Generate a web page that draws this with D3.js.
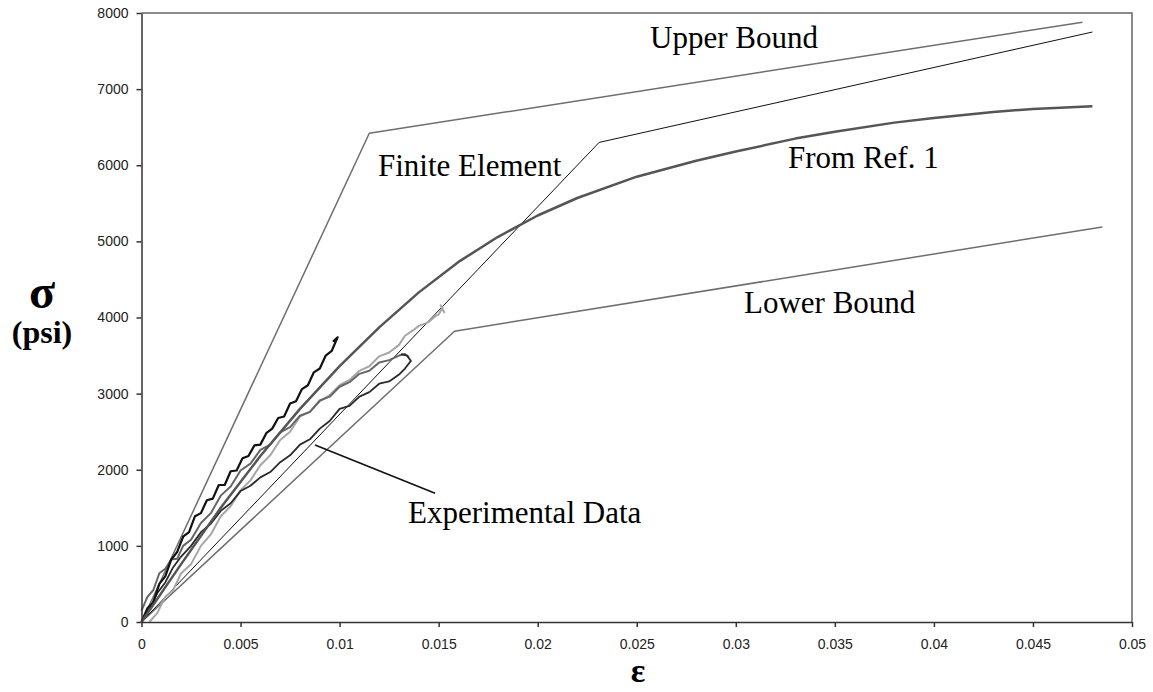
<!DOCTYPE html>
<html>
<head>
<meta charset="utf-8">
<script src="https://cdn.jsdelivr.net/npm/d3@7"></script>
<style>
  html, body { margin: 0; padding: 0; background: #fff; }
  svg { display: block; }
</style>
</head>
<body>
<svg id="chart" width="1153" height="692"></svg>
<script>
// ---- data ----
const xTicks = [0, 0.005, 0.01, 0.015, 0.02, 0.025, 0.03, 0.035, 0.04, 0.045, 0.05];
const xTickLabels = ["0", "0.005", "0.01", "0.015", "0.02", "0.025", "0.03", "0.035", "0.04", "0.045", "0.05"];
const yTicks = [0, 1000, 2000, 3000, 4000, 5000, 6000, 7000, 8000];
const yTickLabels = ["0", "1000", "2000", "3000", "4000", "5000", "6000", "7000", "8000"];

const upperBound = [[0, 0], [0.0115, 6420], [0.0475, 7880]];
const finiteElement = [[0, 0], [0.0231, 6300], [0.048, 7750]];
const lowerBound = [[0, 0], [0.0158, 3820], [0.0485, 5190]];
const fromRef1 = [[0, 0], [0.002, 760], [0.004, 1500], [0.006, 2180], [0.008, 2800], [0.010, 3360],
  [0.012, 3870], [0.014, 4330], [0.016, 4730], [0.018, 5060], [0.020, 5340], [0.022, 5570],
  [0.025, 5850], [0.028, 6060], [0.030, 6180], [0.033, 6350], [0.035, 6440], [0.038, 6560],
  [0.040, 6620], [0.043, 6700], [0.045, 6740], [0.048, 6775]];

const expBlack = [[0, 0], [0.0003, 180], [0.0006, 260], [0.0009, 500], [0.0012, 600], [0.0015, 820],
  [0.0018, 920], [0.0021, 1120], [0.0024, 1180], [0.0027, 1390], [0.003, 1430], [0.0033, 1600],
  [0.0036, 1620], [0.0039, 1800], [0.0042, 1800], [0.0045, 1980], [0.0048, 1990], [0.0051, 2150],
  [0.0054, 2180], [0.0057, 2320], [0.006, 2330], [0.0063, 2480], [0.0066, 2540], [0.0069, 2680],
  [0.0072, 2700], [0.0075, 2870], [0.0078, 2900], [0.0081, 3060], [0.0084, 3110], [0.0087, 3280],
  [0.009, 3330], [0.0093, 3500], [0.0096, 3560], [0.0099, 3740], [0.0097, 3690], [0.0099, 3720]];

const expLight = [[0.0004, 0], [0.0008, 120], [0.0012, 330], [0.0016, 420], [0.002, 640], [0.0025, 760],
  [0.003, 1000], [0.0035, 1150], [0.004, 1390], [0.0045, 1520], [0.005, 1730], [0.0055, 1860],
  [0.006, 2060], [0.0065, 2190], [0.007, 2390], [0.0075, 2500], [0.008, 2700], [0.0085, 2760],
  [0.009, 2900], [0.0095, 2980], [0.010, 3110], [0.0105, 3180], [0.011, 3300], [0.0115, 3360],
  [0.012, 3490], [0.0125, 3540], [0.013, 3640], [0.0133, 3760], [0.0137, 3830], [0.014, 3890],
  [0.0145, 3940], [0.0148, 4010], [0.015, 4040], [0.0152, 4130], [0.0151, 4160], [0.0153, 4060]];

const expMid = [[0, 150], [0.0003, 330], [0.0006, 420], [0.0009, 640], [0.0012, 700], [0.0015, 820],
  [0.0018, 830], [0.0021, 1000], [0.0025, 1080], [0.003, 1300], [0.0035, 1430], [0.004, 1660],
  [0.0045, 1780], [0.005, 1990], [0.0055, 2080], [0.006, 2260], [0.0065, 2330], [0.007, 2490],
  [0.0075, 2560], [0.008, 2710], [0.0085, 2760], [0.009, 2910], [0.0095, 2960], [0.010, 3090],
  [0.0105, 3150], [0.011, 3260], [0.0115, 3300], [0.012, 3410], [0.0125, 3440], [0.013, 3500],
  [0.0133, 3520], [0.0135, 3480]];

const expDark = [[0, 0], [0.0004, 170], [0.0008, 380], [0.0012, 520], [0.0016, 720], [0.002, 860],
  [0.0025, 1000], [0.003, 1180], [0.0035, 1290], [0.004, 1460], [0.0045, 1560], [0.005, 1720],
  [0.0055, 1790], [0.006, 1900], [0.0065, 1970], [0.007, 2100], [0.0075, 2190], [0.008, 2330],
  [0.0085, 2400], [0.009, 2540], [0.0095, 2640], [0.010, 2800], [0.0105, 2840], [0.011, 2960],
  [0.0115, 3020], [0.012, 3130], [0.0125, 3160], [0.013, 3250], [0.0133, 3330], [0.0136, 3430],
  [0.0134, 3500], [0.0131, 3520]];

const pointer = [[0.00876, 2325], [0.01482, 1690]];

const annotations = [
  { text: "Upper Bound", x: 650, y: 48 },
  { text: "Finite Element", x: 378, y: 176 },
  { text: "From Ref. 1", x: 788, y: 168 },
  { text: "Lower Bound", x: 744, y: 313 },
  { text: "Experimental Data", x: 408, y: 523 }
];

// ---- chart ----
const svg = d3.select("#chart");
const pLeft = 141.5, pRight = 1132, pTop = 13, pBottom = 622;
const x = d3.scaleLinear().domain([0, 0.05]).range([pLeft, pRight]);
const y = d3.scaleLinear().domain([0, 8000]).range([pBottom, pTop]);

const line = d3.line().x(d => x(d[0])).y(d => y(d[1]));

// plot border (top & right)
svg.append("path")
  .attr("d", `M${pLeft},${pTop}H${pRight}V${pBottom}`)
  .attr("fill", "none").attr("stroke", "#666").attr("stroke-width", 1.5);

const series = [
  { data: lowerBound, color: "#6e6e6e", w: 1.5 },
  { data: upperBound, color: "#6e6e6e", w: 1.5 },
  { data: finiteElement, color: "#111", w: 1 },
  { data: expLight, color: "#a6a6a6", w: 2 },
  { data: expMid, color: "#666", w: 2 },
  { data: expDark, color: "#2a2a2a", w: 1.8 },
  { data: expBlack, color: "#111", w: 2.2 },
  { data: fromRef1, color: "#555", w: 2.5 }
];
series.forEach(s => {
  svg.append("path").datum(s.data)
    .attr("d", line)
    .attr("fill", "none")
    .attr("stroke", s.color)
    .attr("stroke-width", s.w)
    .attr("stroke-linejoin", "round");
});

svg.append("path").datum(pointer).attr("d", line)
  .attr("fill", "none").attr("stroke", "#111").attr("stroke-width", 1.6);

// axes
const xAxis = d3.axisBottom(x).tickValues(xTicks)
  .tickFormat((d, i) => xTickLabels[i]).tickSize(5).tickSizeOuter(0).tickPadding(12);
const yAxis = d3.axisLeft(y).tickValues(yTicks)
  .tickFormat((d, i) => yTickLabels[i]).tickSize(5).tickSizeOuter(0).tickPadding(8);

const gx = svg.append("g").attr("transform", `translate(0,${pBottom})`).call(xAxis);
const gy = svg.append("g").attr("transform", `translate(${pLeft},0)`).call(yAxis);
[gx, gy].forEach(g => {
  g.select(".domain").attr("stroke", "#333").attr("stroke-width", 1.5);
  g.selectAll(".tick line").attr("stroke", "#333").attr("stroke-width", 1.5);
  g.selectAll(".tick text")
    .attr("fill", "#222")
    .style("font-family", "'Liberation Sans', Arial, sans-serif")
    .style("font-size", "14px");
});

// annotations
svg.selectAll("text.ann").data(annotations).enter().append("text")
  .attr("class", "ann")
  .attr("x", d => d.x).attr("y", d => d.y)
  .style("font-family", "'Liberation Serif', 'Times New Roman', serif")
  .style("font-size", "31px")
  .attr("fill", "#000")
  .text(d => d.text);

// axis titles
svg.append("text")
  .attr("x", 42).attr("y", 308).attr("text-anchor", "middle")
  .style("font-family", "'Liberation Serif', 'Times New Roman', serif")
  .style("font-weight", "bold").style("font-size", "48px")
  .text("σ");
svg.append("text")
  .attr("x", 42).attr("y", 343).attr("text-anchor", "middle")
  .style("font-family", "'Liberation Serif', 'Times New Roman', serif")
  .style("font-weight", "bold").style("font-size", "32px")
  .text("(psi)");
svg.append("text")
  .attr("x", 638).attr("y", 682).attr("text-anchor", "middle")
  .style("font-family", "'Liberation Serif', 'Times New Roman', serif")
  .style("font-weight", "bold").style("font-size", "34px")
  .text("ε");
</script>
</body>
</html>
